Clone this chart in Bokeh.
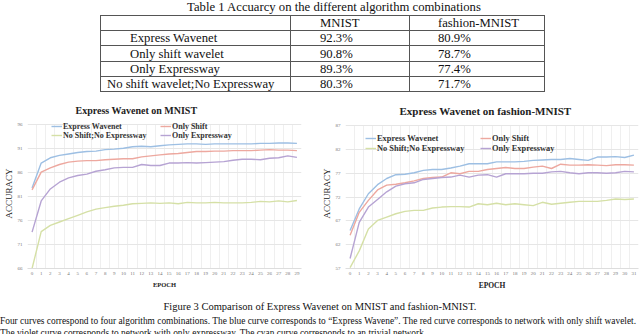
from bokeh.plotting import figure
from bokeh.models import Div, Legend, LegendItem, FixedTicker, Range1d
from bokeh.layouts import column, row
from bokeh.embed import file_html
from bokeh.resources import INLINE

# ---------------- data ----------------
table_title = "Table 1 Accuarcy on the different algorithm combinations"
table_headers = ["", "MNIST", "fashion-MNIST"]
table_methods = ["Express Wavenet", "Only shift wavelet", "Only Expressway",
                 "No shift wavelet;No Expressway"]
table_mnist = ["92.3%", "90.8%", "89.3%", "80.3%"]
table_fashion = ["80.9%", "78.7%", "77.4%", "71.7%"]

series_names = ["Express Wavenet", "Only Shift", "No Shift;No Expressway", "Only Expressway"]

mnist_epochs = list(range(30))
mnist_express = [82.8, 88.0, 89.1, 89.6, 89.9, 90.2, 90.4, 90.5, 90.8, 90.9,
                 91.1, 91.4, 91.5, 91.4, 91.6, 91.8, 91.9, 92.0, 92.0, 91.9,
                 92.0, 92.0, 92.0, 92.0, 92.0, 92.1, 92.1, 92.2, 92.2, 92.1]
mnist_shift = [82.4, 86.1, 87.0, 87.7, 88.2, 88.4, 88.5, 88.5, 88.7, 88.8,
               88.9, 88.9, 89.3, 89.5, 89.7, 89.9, 90.0, 90.2, 90.4, 90.4,
               90.5, 90.5, 90.6, 90.6, 90.6, 90.7, 90.8, 90.7, 90.7, 90.6]
mnist_plain = [66.0, 73.7, 75.0, 75.7, 76.4, 77.1, 77.8, 78.4, 78.7, 79.0,
               79.2, 79.5, 79.6, 79.7, 79.6, 79.7, 79.5, 79.8, 79.7, 79.7,
               79.8, 79.7, 79.7, 79.7, 79.8, 80.0, 79.9, 80.1, 79.9, 80.2]
mnist_expressway = [73.6, 80.1, 82.6, 84.0, 84.9, 85.4, 85.7, 86.3, 86.6, 87.0,
                    87.1, 87.1, 87.7, 87.5, 87.5, 88.0, 88.0, 88.1, 88.0, 88.1,
                    88.2, 88.3, 88.6, 88.8, 88.8, 88.7, 89.0, 89.1, 89.5, 89.2]

fashion_epochs = list(range(32))
fashion_express = [65.0, 69.5, 72.7, 74.6, 75.9, 76.7, 76.8, 77.1, 77.6, 77.8,
                   77.8, 78.1, 78.5, 79.0, 79.0, 79.0, 79.4, 79.4, 79.4, 79.5,
                   79.7, 79.8, 79.9, 79.9, 80.1, 79.9, 79.7, 80.4, 80.4, 80.5,
                   80.3, 80.8]
fashion_shift = [64.0, 68.8, 71.3, 73.5, 74.5, 74.7, 75.0, 75.4, 75.9, 76.1,
                 76.2, 77.1, 76.9, 77.4, 77.4, 77.8, 78.0, 78.2, 78.0, 78.0,
                 78.3, 78.5, 78.0, 78.9, 78.7, 78.7, 78.8, 78.7, 78.6, 78.8,
                 78.8, 78.7]
fashion_plain = [57.2, 60.7, 65.3, 67.1, 67.8, 68.5, 69.0, 69.2, 69.2, 69.7,
                 69.9, 70.0, 70.0, 69.9, 70.6, 70.4, 70.7, 70.4, 70.6, 70.4,
                 70.2, 70.9, 70.5, 70.7, 70.9, 71.1, 71.1, 71.1, 71.3, 71.6,
                 71.5, 71.6]
fashion_expressway = [59.1, 66.7, 69.9, 71.5, 73.1, 74.3, 74.8, 75.0, 75.7, 75.9,
                      76.1, 76.2, 76.6, 76.2, 76.6, 76.7, 76.2, 76.9, 76.9, 76.9,
                      77.0, 77.0, 77.3, 77.4, 77.1, 76.9, 77.1, 77.1, 77.0, 77.1,
                      77.4, 77.3]

caption_title = "Figure 3 Comparison of Express Wavenet on MNIST and fashion-MNIST."
caption_lines = [
    "Four curves correspond to four algorithm combinations. The blue curve corresponds to \u201cExpress Wavene\u201d. The red curve corresponds to network with only shift wavelet.",
    "The violet curve corresponds to  network with only expressway. The cyan curve corresponds to an trivial network.",
]

colors = ["#9dbfe3", "#eda89f", "#d5e0a6", "#b6a3d3"]
SERIF = "Liberation Serif"
FONT_CSS = "font-family:'Liberation Serif','Times New Roman',serif;"

# ---------------- table (HTML, absolutely placed pieces) ----------------
T_TOP, ROW_H = 15, 15.2
COL_X = [100, 290, 409, 544]
TEXT_PAD = [[30, 30, 30, 30, 7], 30, 29]
n_rows = len(table_methods) + 1
parts = []
for k in range(n_rows + 1):
    y = T_TOP + ROW_H * k
    parts.append("<div style=\"position:absolute;left:%dpx;top:%.1fpx;width:%dpx;height:1px;background:#555;\"></div>"
                 % (COL_X[0], y, COL_X[-1] - COL_X[0] + 1))
for x in COL_X:
    parts.append("<div style=\"position:absolute;left:%dpx;top:%dpx;width:1px;height:%.1fpx;background:#555;\"></div>"
                 % (x, T_TOP, ROW_H * n_rows + 1))
cells = [table_headers] + [[m, a, b] for m, a, b in zip(table_methods, table_mnist, table_fashion)]
for r, rowvals in enumerate(cells):
    cy = T_TOP + ROW_H * (r + 0.5)
    for c, txt in enumerate(rowvals):
        if not txt:
            continue
        pad = TEXT_PAD[0][r] if c == 0 else TEXT_PAD[c]
        parts.append("<span style=\"position:absolute;left:%dpx;top:%.1fpx;white-space:nowrap;%sfont-size:12.7px;line-height:16px;color:#111;\">%s</span>"
                     % (COL_X[c] + pad, cy - 7.5, FONT_CSS, txt))
table_html = (
    "<div style=\"position:relative;width:640px;height:100px;{f}color:#111;\">"
    "<div style=\"position:absolute;left:0;top:-1px;width:668px;text-align:center;{f}font-size:12.7px;line-height:16px;\">{t}</div>"
    "{p}</div>"
).format(f=FONT_CSS, t=table_title, p="".join(parts))
table_div = Div(text=table_html, width=640, height=100, margin=(0, 0, 0, 0))


def make_chart(title, epochs, series, ymin, ymax, ytop, width, height, bl, br, bt, bb,
               title_offset, title_size, title_standoff, leg_x, leg_y1, leg_y2, leg_w, leg_sp,
               leg_size, xlab_size, ylab_size):
    p = figure(width=width, height=height, output_backend="svg", toolbar_location=None,
               x_range=Range1d(-0.5, epochs[-1] + 0.5), y_range=Range1d(ymin, ytop),
               min_border_left=bl, min_border_right=br, min_border_top=bt, min_border_bottom=bb)
    p.outline_line_color = None
    p.background_fill_color = "white"
    p.border_fill_color = "white"
    p.title.text = title
    p.title.text_font = SERIF
    p.title.text_font_style = "bold"
    p.title.text_font_size = title_size
    p.title.text_color = "#222222"
    p.title.align = "left"
    p.title.offset = title_offset
    p.title.standoff = title_standoff

    p.xaxis.ticker = FixedTicker(ticks=epochs)
    p.yaxis.ticker = FixedTicker(ticks=list(range(ymin, ymax + 1, 5)))
    p.xgrid.ticker = FixedTicker(ticks=[e - 0.5 for e in epochs] + [epochs[-1] + 0.5])
    try:
        p.xgrid.cross_bounds = (ymin, ymax)
    except Exception:
        pass
    p.xgrid.grid_line_color = "#efefef"
    p.ygrid.grid_line_color = "#e6e6e6"
    for ax in (p.xaxis[0], p.yaxis[0]):
        ax.major_tick_line_color = None
        ax.minor_tick_line_color = None
        ax.major_tick_out = 0
        ax.major_tick_in = 0
        ax.minor_tick_out = 0
        ax.minor_tick_in = 0
        ax.major_label_text_font = SERIF
        ax.major_label_text_font_size = "5px"
        ax.major_label_text_color = "#777777"
        ax.axis_label_text_font = SERIF
        ax.axis_label_text_color = "#222222"
    p.xaxis.axis_line_color = "#dddddd"
    p.yaxis.axis_line_color = None
    p.xaxis.major_label_standoff = 3
    p.yaxis.major_label_standoff = 5
    p.xaxis.axis_label = "EPOCH"
    p.xaxis.axis_label_text_font_style = "bold"
    p.xaxis.axis_label_text_font_size = xlab_size
    p.xaxis.axis_label_standoff = 3
    p.yaxis.axis_label = "ACCURACY"
    p.yaxis.axis_label_text_font_style = "normal"
    p.yaxis.axis_label_text_font_size = ylab_size
    p.yaxis.axis_label_standoff = 1

    rends = []
    for vals, c in zip(series, colors):
        rends.append(p.line(epochs, vals, line_color=c, line_width=1.4))

    for idxs, ly in (([0, 1], leg_y1), ([2, 3], leg_y2)):
        lg = Legend(items=[LegendItem(label=series_names[i], renderers=[rends[i]]) for i in idxs],
                    orientation="horizontal", location=(leg_x, ly),
                    padding=0, margin=0, spacing=leg_sp, label_width=leg_w,
                    label_standoff=1, glyph_width=11, glyph_height=10, label_height=10,
                    label_text_font=SERIF, label_text_font_style="bold",
                    label_text_font_size=leg_size, label_text_color="#333333",
                    border_line_color=None, background_fill_alpha=0)
        p.add_layout(lg, "center")
    return p


p1 = make_chart("Express Wavenet on MNIST", mnist_epochs,
                [mnist_express, mnist_shift, mnist_plain, mnist_expressway],
                66, 96, 97.3, 318, 194, 24, 17, 18, 25,
                48, "10px", 5, 24, 137, 128, 86, 11, "8px", "6.5px", "9px")
p2 = make_chart("Express Wavenet on fashion-MNIST", fashion_epochs,
                [fashion_express, fashion_shift, fashion_plain, fashion_expressway],
                57, 87, 88.5, 322, 194, 21, 2, 18, 26,
                54, "11px", 4, 20, 125, 115, 92, 11, "8.4px", "7.5px", "9px")

cap_html = (
    "<div style=\"position:relative;width:640px;height:40px;overflow:hidden;{f}color:#111;\">"
    "<div style=\"position:absolute;left:0;top:6px;width:640px;text-align:center;{f}font-size:10.5px;line-height:13px;\">{t}</div>"
    "<div style=\"position:absolute;left:0;top:21px;width:700px;white-space:nowrap;{f}font-size:9.4px;line-height:12px;\">{l1}</div>"
    "<div style=\"position:absolute;left:0;top:33px;width:700px;white-space:nowrap;{f}font-size:9.4px;line-height:12px;\">{l2}</div>"
    "</div>"
).format(f=FONT_CSS, t=caption_title, l1=caption_lines[0], l2=caption_lines[1])
cap_div = Div(text=cap_html, width=640, height=40, margin=(0, 0, 0, 0))

layout = column(table_div, row(p1, p2, spacing=0), cap_div, spacing=0,
                styles={"position": "absolute", "left": "0px", "top": "0px"})

open("out.html", "w").write(file_html(layout, INLINE))
